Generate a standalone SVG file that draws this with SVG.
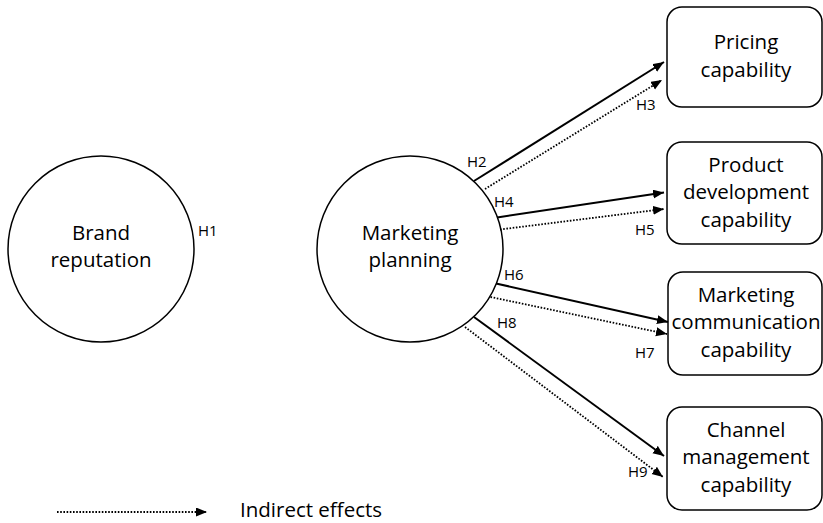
<svg xmlns="http://www.w3.org/2000/svg" width="823" height="523" viewBox="0 0 823 523">
<style>
  .node { fill: #ffffff; stroke: #000000; stroke-width: 1.5; }
  .txt { font-family: "Open Sans", "Liberation Sans", sans-serif; font-size: 20.5px; fill: #000000; text-anchor: middle; }
  .lbl { font-family: "Open Sans", "Liberation Sans", sans-serif; font-size: 15px; fill: #000000; }
  .solid { stroke: #000000; stroke-width: 2; fill: none; marker-end: url(#arrow); }
  .dotted { stroke: #000000; stroke-width: 1.8; stroke-dasharray: 1.6 1.6; fill: none; marker-end: url(#arrow); }
</style>
<defs>
  <marker id="arrow" markerUnits="userSpaceOnUse" markerWidth="12" markerHeight="10" refX="11" refY="4.5" orient="auto">
    <path d="M0,0 L11,4.5 L0,9 z" fill="#000000"/>
  </marker>
</defs>

<g id="brand-reputation">
  <circle class="node" cx="101" cy="249" r="93"/>
  <text class="txt" x="101" y="240">Brand</text>
  <text class="txt" x="101" y="267">reputation</text>
</g>

<g id="marketing-planning">
  <circle class="node" cx="410" cy="249" r="93"/>
  <text class="txt" x="410" y="240">Marketing</text>
  <text class="txt" x="410" y="267">planning</text>
</g>

<g id="pricing-capability">
  <rect class="node" x="667" y="7" width="155" height="100" rx="15" ry="15"/>
  <text class="txt" x="746" y="49">Pricing</text>
  <text class="txt" x="746" y="76.5">capability</text>
</g>

<g id="product-development-capability">
  <rect class="node" x="667" y="142" width="155" height="102" rx="15" ry="15"/>
  <text class="txt" x="746" y="171.5">Product</text>
  <text class="txt" x="746" y="199">development</text>
  <text class="txt" x="746" y="226.5">capability</text>
</g>

<g id="marketing-communication-capability">
  <rect class="node" x="668" y="272" width="154" height="103" rx="15" ry="15"/>
  <text class="txt" x="746" y="301.5">Marketing</text>
  <text class="txt" x="746" y="329">communication</text>
  <text class="txt" x="746" y="356.5">capability</text>
</g>

<g id="channel-management-capability">
  <rect class="node" x="667" y="407" width="155" height="103" rx="15" ry="15"/>
  <text class="txt" x="746" y="436.5">Channel</text>
  <text class="txt" x="746" y="463.5">management</text>
  <text class="txt" x="746" y="491.5">capability</text>
</g>

<g id="connectors">
  <line class="solid" x1="474" y1="181" x2="664" y2="62"/>
  <line class="dotted" x1="485" y1="189" x2="662" y2="80"/>
  <line class="solid" x1="497" y1="217.5" x2="664" y2="192.5"/>
  <line class="dotted" x1="500" y1="229.5" x2="664" y2="209"/>
  <line class="solid" x1="496" y1="283.5" x2="668" y2="322"/>
  <line class="dotted" x1="490.5" y1="297" x2="667" y2="334"/>
  <line class="solid" x1="474" y1="317" x2="664" y2="456"/>
  <line class="dotted" x1="465" y1="327" x2="663" y2="477"/>
</g>

<g id="labels">
  <text class="lbl" x="198" y="236">H1</text>
  <text class="lbl" x="467" y="167">H2</text>
  <text class="lbl" x="636" y="110">H3</text>
  <text class="lbl" x="494" y="207">H4</text>
  <text class="lbl" x="635" y="235">H5</text>
  <text class="lbl" x="504" y="280">H6</text>
  <text class="lbl" x="635" y="358">H7</text>
  <text class="lbl" x="497" y="328">H8</text>
  <text class="lbl" x="628" y="477">H9</text>
</g>

<g id="legend">
  <line class="dotted" x1="57" y1="512" x2="207" y2="512"/>
  <text class="txt" x="240" y="517" style="text-anchor: start">Indirect effects</text>
</g>
</svg>
